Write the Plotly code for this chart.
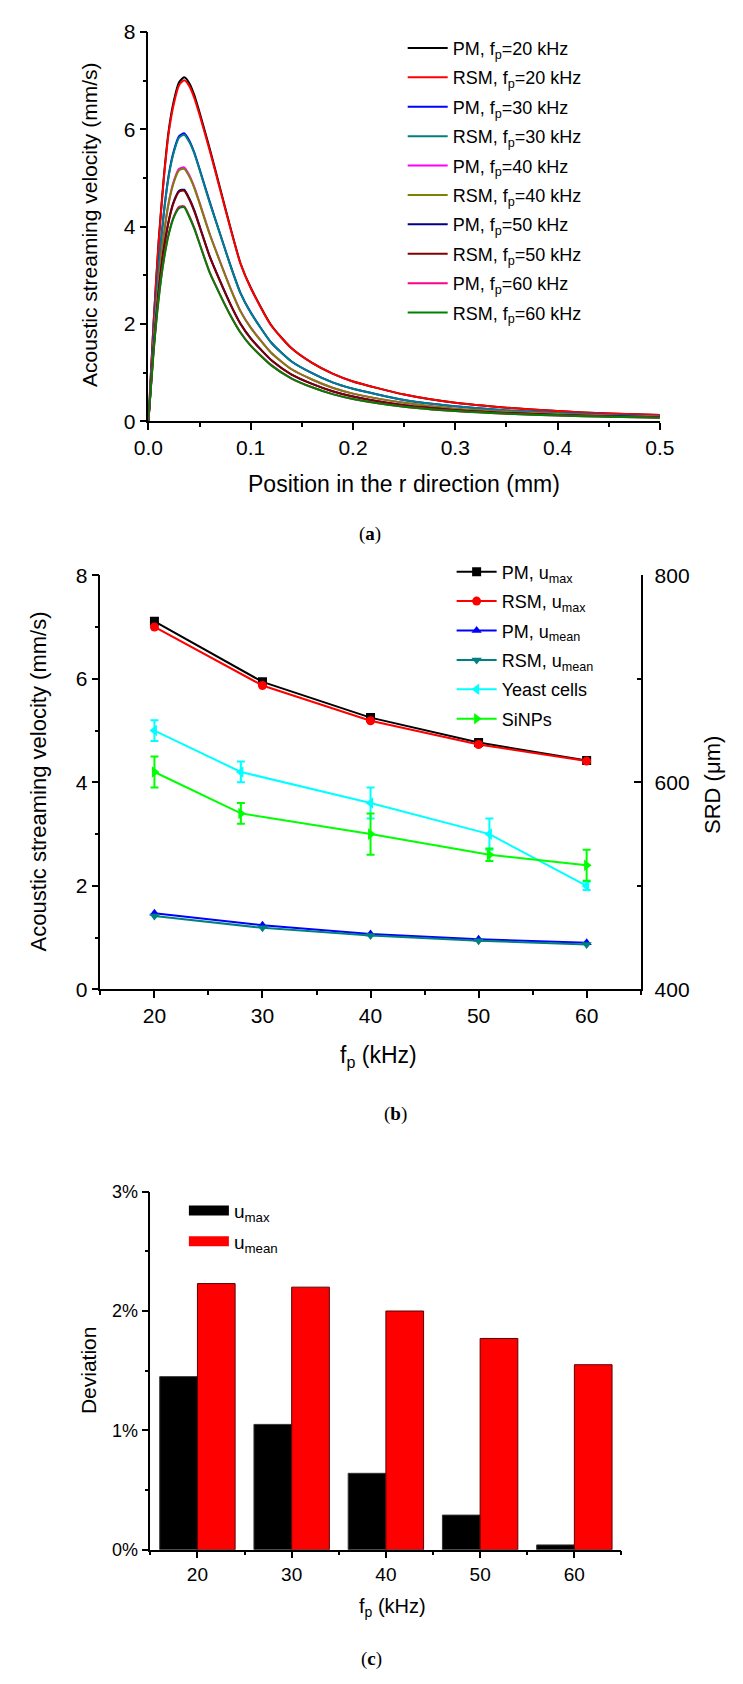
import plotly.graph_objects as go

W, H = 743, 1684
def px(x): return x / W
def py(y): return 1 - y / H

ARIAL = "Liberation Sans, Arial, sans-serif"
SERIF = "Liberation Serif, DejaVu Serif, serif"

# ---------------- Panel (a) data ----------------
r_pos = [0, 0.005, 0.01, 0.015, 0.02, 0.025, 0.03, 0.035, 0.04, 0.045, 0.05, 0.06, 0.07,
         0.08, 0.09, 0.1, 0.12, 0.14, 0.16, 0.18, 0.2, 0.25, 0.3, 0.35, 0.4, 0.45, 0.5]
pm20 = [0, 2.0, 3.7, 5.0, 6.0, 6.6, 6.97, 7.07, 6.95, 6.7, 6.35, 5.6, 4.8, 4.0, 3.25, 2.75,
        1.98, 1.5, 1.2, 0.98, 0.82, 0.55, 0.38, 0.28, 0.21, 0.16, 0.13]
rsm20 = [0, 1.98, 3.67, 4.96, 5.95, 6.54, 6.91, 7.01, 6.89, 6.64, 6.3, 5.56, 4.77, 3.98, 3.24,
         2.74, 1.97, 1.5, 1.2, 0.98, 0.82, 0.55, 0.38, 0.28, 0.21, 0.16, 0.13]
pm30 = [0, 1.74, 3.19, 4.27, 5.08, 5.57, 5.86, 5.92, 5.77, 5.52, 5.19, 4.51, 3.86, 3.22, 2.64,
        2.24, 1.62, 1.23, 0.99, 0.8, 0.67, 0.44, 0.31, 0.225, 0.17, 0.132, 0.106]
rsm30 = [0, 1.73, 3.17, 4.25, 5.05, 5.54, 5.83, 5.89, 5.74, 5.5, 5.17, 4.49, 3.85, 3.21, 2.63,
         2.23, 1.62, 1.23, 0.99, 0.8, 0.67, 0.44, 0.31, 0.225, 0.17, 0.132, 0.106]
pm40 = [0, 1.59, 2.88, 3.83, 4.52, 4.95, 5.19, 5.22, 5.06, 4.81, 4.5, 3.85, 3.29, 2.75, 2.27,
        1.93, 1.41, 1.07, 0.86, 0.69, 0.57, 0.38, 0.26, 0.195, 0.15, 0.115, 0.092]
rsm40 = [0, 1.58, 2.86, 3.81, 4.5, 4.92, 5.16, 5.19, 5.03, 4.79, 4.48, 3.84, 3.28, 2.74, 2.26,
         1.92, 1.41, 1.07, 0.86, 0.69, 0.57, 0.38, 0.26, 0.195, 0.15, 0.115, 0.092]
pm50 = [0, 1.48, 2.66, 3.53, 4.14, 4.53, 4.74, 4.76, 4.58, 4.33, 4.02, 3.39, 2.89, 2.42, 2.01,
        1.71, 1.26, 0.96, 0.77, 0.62, 0.51, 0.33, 0.23, 0.172, 0.132, 0.104, 0.082]
rsm50 = [0, 1.47, 2.64, 3.51, 4.12, 4.51, 4.72, 4.74, 4.56, 4.31, 4.0, 3.38, 2.88, 2.41, 2.0,
         1.7, 1.26, 0.96, 0.77, 0.62, 0.51, 0.33, 0.23, 0.172, 0.132, 0.104, 0.082]
pm60 = [0, 1.41, 2.52, 3.32, 3.87, 4.22, 4.41, 4.42, 4.22, 3.97, 3.66, 3.06, 2.61, 2.19, 1.83,
        1.56, 1.16, 0.88, 0.7, 0.56, 0.46, 0.3, 0.21, 0.155, 0.12, 0.095, 0.075]
rsm60 = [0, 1.4, 2.5, 3.3, 3.85, 4.2, 4.38, 4.4, 4.2, 3.95, 3.65, 3.05, 2.6, 2.18, 1.82,
         1.55, 1.15, 0.88, 0.7, 0.56, 0.46, 0.3, 0.21, 0.155, 0.12, 0.095, 0.075]

curve_names = ["PM, f<sub>p</sub>=20 kHz", "RSM, f<sub>p</sub>=20 kHz",
               "PM, f<sub>p</sub>=30 kHz", "RSM, f<sub>p</sub>=30 kHz",
               "PM, f<sub>p</sub>=40 kHz", "RSM, f<sub>p</sub>=40 kHz",
               "PM, f<sub>p</sub>=50 kHz", "RSM, f<sub>p</sub>=50 kHz",
               "PM, f<sub>p</sub>=60 kHz", "RSM, f<sub>p</sub>=60 kHz"]
curve_data = [pm20, rsm20, pm30, rsm30, pm40, rsm40, pm50, rsm50, pm60, rsm60]
curve_colors = ["#000000", "#FF0000", "#0000FF", "#008080", "#FF00FF",
                "#808000", "#000080", "#800000", "#FF0080", "#008000"]

# ---------------- Panel (b) data ----------------
freq = [20, 30, 40, 50, 60]
pm_umax = [7.11, 5.94, 5.25, 4.77, 4.42]
rsm_umax = [7.00, 5.87, 5.19, 4.73, 4.41]
pm_umean = [1.47, 1.24, 1.07, 0.97, 0.90]
rsm_umean = [1.42, 1.19, 1.04, 0.94, 0.87]
srd_freq = [20, 28, 40, 51, 60]
yeast_srd = [650, 610, 580, 550, 500]
yeast_err = [10, 10, 15, 15, 4]
sinp_srd = [610, 570, 550, 530, 520]
sinp_err = [15, 10, 20, 6, 15]

# ---------------- Panel (c) data ----------------
dev_umax = [1.45, 1.05, 0.64, 0.29, 0.04]
dev_umean = [2.23, 2.20, 2.00, 1.77, 1.55]

fig = go.Figure()

# Panel (a)
for name, ys, col in zip(curve_names, curve_data, curve_colors):
    fig.add_trace(go.Scatter(x=r_pos, y=ys, mode="lines", name=name,
                             line=dict(color=col, width=2, shape="spline", smoothing=0.6),
                             xaxis="x", yaxis="y", legend="legend", legendgroup=name))

# Panel (b)
b_series = [
    ("PM, u<sub>max</sub>", pm_umax, "#000000", "square"),
    ("RSM, u<sub>max</sub>", rsm_umax, "#FF0000", "circle"),
    ("PM, u<sub>mean</sub>", pm_umean, "#0000FF", "triangle-up"),
    ("RSM, u<sub>mean</sub>", rsm_umean, "#008080", "triangle-down"),
]
for name, ys, col, sym in b_series:
    fig.add_trace(go.Scatter(x=freq, y=ys, mode="lines+markers", name=name,
                             line=dict(color=col, width=2),
                             marker=dict(symbol=sym, size=9, color=col),
                             xaxis="x2", yaxis="y2", legend="legend2", legendgroup=name))
fig.add_trace(go.Scatter(x=srd_freq, y=yeast_srd, mode="lines+markers", name="Yeast cells",
                         line=dict(color="#00FFFF", width=2),
                         marker=dict(symbol="triangle-left", size=10, color="#00FFFF"),
                         error_y=dict(type="data", array=yeast_err, color="#00FFFF",
                                      thickness=2, width=4),
                         xaxis="x2", yaxis="y3", legend="legend2", legendgroup="yeast"))
fig.add_trace(go.Scatter(x=srd_freq, y=sinp_srd, mode="lines+markers", name="SiNPs",
                         line=dict(color="#00FF00", width=2),
                         marker=dict(symbol="triangle-right", size=10, color="#00FF00"),
                         error_y=dict(type="data", array=sinp_err, color="#00FF00",
                                      thickness=2, width=4),
                         xaxis="x2", yaxis="y3", legend="legend2", legendgroup="sinps"))

# Panel (c)
bar_names = ["u<sub>max</sub>", "u<sub>mean</sub>"]
bar_colors = ["#000000", "#FF0000"]
bar_edges = ["#333333", "#5a0000"]
for name, ys, col, edge, off in zip(bar_names, [dev_umax, dev_umean], bar_colors, bar_edges, [-4, 0]):
    fig.add_trace(go.Bar(x=freq, y=ys, width=4, offset=off, name=name, showlegend=False,
                         marker=dict(color=col, line=dict(color=edge, width=1)),
                         xaxis="x3", yaxis="y4"))
# wide legend swatches for the bars (legend entries only, no data)
for name, col in zip(bar_names, bar_colors):
    fig.add_trace(go.Scatter(x=[None], y=[None], mode="lines", name=name,
                             line=dict(color=col, width=14),
                             xaxis="x3", yaxis="y4", legend="legend3", legendgroup="L" + name))


def axis(domain, rng, dtick, mdtick, anchor, size, ticks="outside", **kw):
    d = dict(domain=domain, range=rng, dtick=dtick, anchor=anchor,
             showline=True, linecolor="black", linewidth=1.5, mirror=False,
             showgrid=False, zeroline=False,
             ticks=ticks, ticklen=7, tickwidth=1.5, tickcolor="black",
             tickfont=dict(family=ARIAL, size=size, color="black"),
             minor=dict(ticks=ticks, ticklen=4, tickwidth=1.5, tickcolor="black",
                        dtick=mdtick, showgrid=False))
    d.update(kw)
    return d

ya_dom = [py(415), py(20.4)]
yb_dom = [py(991), py(571)]
yc_dom = [py(1559), py(1196)]

fig.update_layout(
    width=W, height=H,
    margin=dict(l=0, r=0, t=0, b=0),
    paper_bgcolor="white", plot_bgcolor="white",
    showlegend=True,
    barmode="overlay",
    xaxis=axis([px(139), px(672)], [0, 0.5], 0.1, 0.05, "y", 21, tickformat=".1f"),
    yaxis=axis(ya_dom, [0, 8], 2, 1, "x", 21),
    xaxis2=axis([px(89), px(652)], [15, 65], 10, 5, "y2", 21),
    yaxis2=axis(yb_dom, [0, 8], 2, 1, "x2", 21),
    yaxis3=axis(yb_dom, [400, 800], 200, 100, "x2", 21, ticks="inside",
                overlaying="y2", side="right", ticklabelstandoff=8),
    xaxis3=axis([px(141), px(632)], [15, 65], 10, 5, "y4", 19),
    yaxis4=axis(yc_dom, [0, 3], 1, 0.5, "x3", 18, ticksuffix="%"),
    legend=dict(x=px(404), y=py(18), xanchor="left", yanchor="top",
                bgcolor="rgba(0,0,0,0)", borderwidth=0, itemwidth=40,
                tracegroupgap=3,
                font=dict(family=ARIAL, size=18, color="black")),
    legend2=dict(x=px(455), y=py(549), xanchor="left", yanchor="top",
                 bgcolor="rgba(0,0,0,0)", borderwidth=0, itemwidth=40,
                 tracegroupgap=3,
                 font=dict(family=ARIAL, size=18, color="black")),
    legend3=dict(x=px(176), y=py(1196), xanchor="left", yanchor="top",
                 bgcolor="rgba(0,0,0,0)", borderwidth=0, itemwidth=40,
                 tracegroupgap=3,
                 font=dict(family=ARIAL, size=19, color="black")),
)

def ann(text, x, y, size, family, angle=0):
    fig.add_annotation(text=text, x=px(x), y=py(y), xref="paper", yref="paper",
                       showarrow=False, textangle=angle, xanchor="center", yanchor="middle",
                       font=dict(family=family, size=size, color="black"))

# Panel (a) titles
ann("Acoustic streaming velocity (mm/s)", 77, 216, 21, ARIAL, -90)
ann("Position in the r direction (mm)", 405, 479, 23, ARIAL)
ann("(<b>a</b>)", 370, 529, 19, SERIF)
# Panel (b) titles
ann("Acoustic streaming velocity (mm/s)", 24, 780, 22, ARIAL, -90)
ann("SRD (μm)", 727, 784, 22, ARIAL, -90)
ann("f<sub>p</sub> (kHz)", 379, 1059, 23, ARIAL)
ann("(<b>b</b>)", 396, 1117, 19, SERIF)
# Panel (c) titles
ann("Deviation", 76, 1377, 21, ARIAL, -90)
ann("f<sub>p</sub> (kHz)", 393, 1618, 20, ARIAL)
ann("(<b>c</b>)", 372, 1670, 19, SERIF)

fig.write_html("out.html")
